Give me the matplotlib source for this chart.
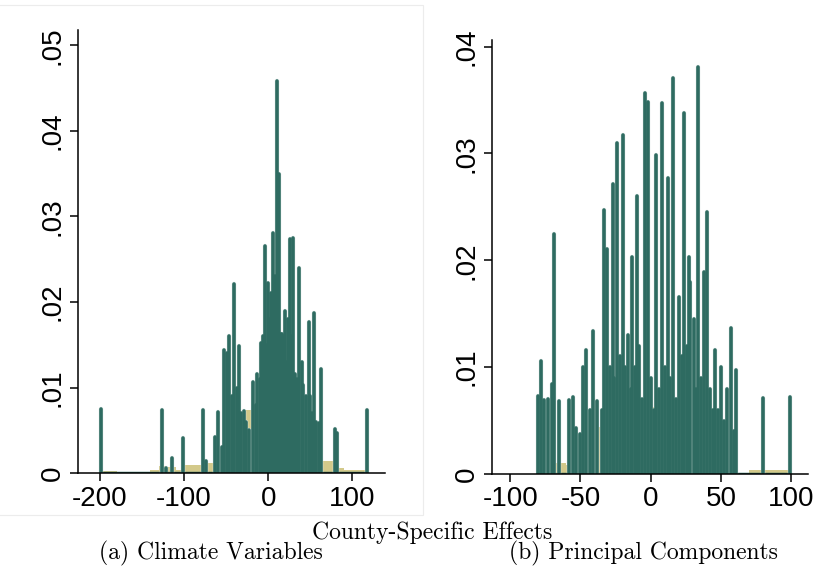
import matplotlib
matplotlib.use('Agg')
import matplotlib.pyplot as plt
import matplotlib.patheffects as pe
from matplotlib.patches import Rectangle

GREEN = '#2e6b61'
TAN = '#d3c98a'

# panel (a): climate variables -- spike positions and densities
a_x = [-199, -126, -122, -114, -101, -77, -74, -63, -60, -55, -52, -49, -46, -43,
       -40, -37, -35, -32, -29, -26, -23, -18, -15, -13, -10, -8, -6, -4, -2, 0,
       2, 4, 6, 8, 10, 12, 13, 15, 17, 18, 20, 22, 24, 26, 28, 30, 32, 34, 37,
       40, 42, 45, 48, 50, 52, 54, 57, 60, 63, 79, 82, 117]
a_h = [.0075, .0074, .0006, .0018, .0041, .0074, .0014, .0042, .0071, .0030, .0144,
       .0140, .0160, .0090, .0221, .0100, .0148, .0070, .0073, .0060, .0050, .0107,
       .0080, .0116, .0110, .0152, .0160, .0265, .0150, .0222, .0180, .0210, .0281,
       .0230, .0458, .0280, .0350, .0162, .0162, .0160, .0190, .0130, .0180, .0274,
       .0160, .0275, .0116, .0110, .0240, .0130, .0103, .0090, .0177, .0090, .0070,
       .0187, .0060, .0059, .0122, .0051, .0047, .0074]
# background histogram, 10-unit bins
a_bins = list(range(-195, 120, 10))
a_bin_h = [.0002, .0002, .0001, 0, 0, 0, .0003, .0008, .0007, .0004, .0009, .0009,
           .0012, .0012, .0020, .0047, .0060, .0074, .0045, .0025, .0060, .0080,
           .0088, .0088, .0088, .0060, .0014, .0014, .0006, .0003, .0003, .0003]

# panel (b): principal components
b_x = [-80, -78, -76, -73, -70, -69, -65, -58, -55, -53, -50, -48, -46, -43, -41,
       -38, -35, -33, -31, -29, -27, -26, -24, -22, -20, -18, -16, -14, -13, -11,
       -10, -8, -6, -4, -2, 0, 2, 4, 6, 8, 10, 12, 14, 16, 18, 20, 22, 24, 26, 27,
       28, 31, 32, 34, 36, 38, 40, 42, 44, 46, 48, 50, 52, 54, 57, 59, 61, 80, 99]
b_h = [.0073, .0106, .0069, .0070, .0084, .0225, .0068, .0069, .0072, .0043, .0037,
       .0100, .0116, .0060, .0134, .0068, .0060, .0247, .0211, .0100, .0271, .0090,
       .0310, .0110, .0317, .0100, .0130, .0080, .0203, .0100, .0260, .0120, .0070,
       .0357, .0348, .0090, .0060, .0299, .0080, .0347, .0100, .0277, .0090, .0371,
       .0070, .0166, .0110, .0338, .0120, .0203, .0180, .0145, .0080, .0381, .0090,
       .0189, .0245, .0080, .0060, .0116, .0060, .0100, .0050, .0080, .0137, .0040,
       .0097, .0071, .0072]
b_bins = list(range(-75, 100, 10))
b_bin_h = [.0030, .0010, .0008, .0020, .0044, .0050, .0045, .0063, .0063, .0050,
           .0060, .0083, .0060, .0020, 0, .0004, .0004, .0004]

a_xticks = [-200, -100, 0, 100]
a_yticks = [0, .01, .02, .03, .04, .05]
b_xticks = [-100, -50, 0, 50, 100]
b_yticks = [0, .01, .02, .03, .04]


def fmt_y(v):
    if v == 0:
        return '0'
    return ('%.2f' % v).lstrip('0')


def draw_panel(ax, xs, hs, bins, bin_h, xticks, yticks, xlim, ylim):
    ax.bar(bins, bin_h, width=10, color=TAN, zorder=1, linewidth=0)
    ax.hlines(0, min(xs), max(xs), colors=GREEN, linewidth=2.5, zorder=2)
    spikes = ax.vlines(xs, 0, hs, colors=GREEN, linewidth=2.6, capstyle='round',
                       zorder=2)
    # light rim so neighbouring spikes stay apart
    spikes.set_path_effects([pe.Stroke(linewidth=3.2, foreground='#dde8e5'),
                             pe.Normal()])
    ax.set_xlim(xlim)
    ax.set_ylim(ylim)
    for s in ['top', 'right']:
        ax.spines[s].set_visible(False)
    for s in ['left', 'bottom']:
        ax.spines[s].set_linewidth(1.1)
        ax.spines[s].set_zorder(3)
    ax.set_xticks(xticks)
    ax.set_xticklabels([str(t) for t in xticks])
    ax.set_yticks(yticks)
    ax.set_yticklabels([fmt_y(t) for t in yticks], rotation=90, va='center')
    ax.tick_params(direction='out', length=6, width=1.1, labelsize=20, pad=3)
    for lab in ax.get_xticklabels() + ax.get_yticklabels():
        lab.set_family('Liberation Sans')


plt.rcParams['font.family'] = ['cmr10', 'DejaVu Serif']
plt.rcParams['axes.unicode_minus'] = False

fig = plt.figure(figsize=(8.17, 5.73), dpi=100)

ax1 = fig.add_axes([0.0955, 0.1745, 0.3758, 0.773])
draw_panel(ax1, a_x, a_h, a_bins, a_bin_h, a_xticks, a_yticks, (-226, 139), (0, .0518))

ax2 = fig.add_axes([0.6022, 0.1728, 0.3868, 0.757])
draw_panel(ax2, b_x, b_h, b_bins, b_bin_h, b_xticks, b_yticks, (-113, 112), (0, .0406))

# faint frame of the left graph
fig.patches.append(Rectangle((-0.01, 1 - 515 / 573), 423 / 817 + 0.01, 510 / 573,
                             transform=fig.transFigure, fill=False,
                             edgecolor='#ececec', linewidth=0.8))

fig.text(432 / 817, 1 - 533 / 573, 'County-Specific Effects', ha='center', va='center',
         fontsize=17)
fig.text(211 / 817, 1 - 553 / 573, '(a) Climate Variables', ha='center', va='center',
         fontsize=17)
fig.text(643 / 817, 1 - 553 / 573, '(b) Principal Components', ha='center', va='center',
         fontsize=17)

fig.savefig('out.png', dpi=100)
